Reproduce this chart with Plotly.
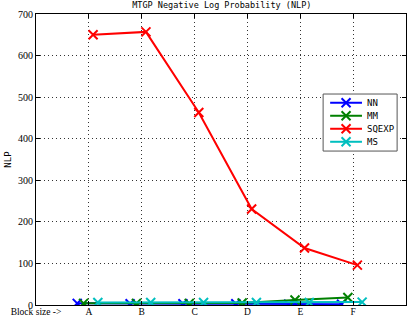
import plotly.graph_objects as go

tick_labels = ["Block size ->", "A", "B", "C", "D", "E", "F"]
positions = [1, 2, 3, 4, 5, 6]
series_names = ["NN", "MM", "SQEXP", "MS"]
nn = [4, 3, 3, 3, 2, 2]
mm = [4, 4, 4, 5, 12, 18]
sqexp = [650, 657, 463, 231, 137, 96]
ms = [6, 6, 6, 6, 6, 7]
offsets = [-0.22, -0.1, 0.08, 0.17]
colors = ["#0000ff", "#008000", "#ff0000", "#00bfbf"]

fig = go.Figure()
for name, vals, off, col in zip(series_names, [nn, mm, sqexp, ms], offsets, colors):
    fig.add_trace(go.Scatter(
        x=[p + off for p in positions], y=vals, name=name, mode="lines+markers",
        line=dict(color=col, width=2), showlegend=False,
        marker=dict(symbol="x-thin", size=9, color=col, line=dict(width=2, color=col)),
    ))

# manual compact legend (MATLAB style) on an overlay axis in plot-area fractions
box_x0, box_x1, box_y0, box_y1 = 0.776, 0.976, 0.529, 0.725
fig.add_trace(go.Scatter(
    x=[box_x0, box_x1, box_x1, box_x0, box_x0], y=[box_y0, box_y0, box_y1, box_y1, box_y0],
    xaxis="x2", yaxis="y2", mode="lines", fill="toself", fillcolor="white",
    line=dict(color="#555555", width=1), showlegend=False, hoverinfo="skip"))
row_step = 0.0447
for i, (name, col) in enumerate(zip(series_names, colors)):
    yy = 0.695 - i * row_step
    fig.add_trace(go.Scatter(
        x=[0.795, 0.881], y=[yy, yy], xaxis="x2", yaxis="y2", mode="lines",
        line=dict(color=col, width=2), showlegend=False, hoverinfo="skip"))
    fig.add_trace(go.Scatter(
        x=[0.838], y=[yy], xaxis="x2", yaxis="y2", mode="markers",
        marker=dict(symbol="x-thin", size=9, color=col, line=dict(width=2, color=col)),
        showlegend=False, hoverinfo="skip"))
    fig.add_annotation(x=0.89, y=yy, xref="paper", yref="paper", text=name,
                       showarrow=False, xanchor="left", yanchor="middle",
                       font=dict(family="DejaVu Sans Mono", size=9, color="black"))

tick_font = dict(family="Liberation Serif", size=10, color="black")
fig.update_layout(
    width=407, height=318,
    margin=dict(l=36, r=1, t=14, b=13),
    paper_bgcolor="white", plot_bgcolor="white",
    title=dict(text="MTGP Negative Log Probability (NLP)", x=0.545, xanchor="center",
               y=0.995, yanchor="top",
               font=dict(family="DejaVu Sans Mono", size=8.5, color="black")),
    showlegend=False,
    xaxis=dict(
        range=[0, 7], tickmode="array", tickvals=list(range(0, 7)), ticktext=tick_labels,
        showgrid=True, gridcolor="#333333", griddash="1px,3px", gridwidth=1,
        showline=True, linecolor="black", linewidth=1, mirror="ticks",
        ticks="inside", ticklen=4, tickcolor="black",
        tickfont=dict(family="Liberation Serif", size=9.5, color="black"),
        ticklabelstandoff=-2,
        zeroline=False, automargin=False,
    ),
    yaxis=dict(
        range=[0, 700], tickmode="array", tickvals=list(range(0, 701, 100)),
        showgrid=True, gridcolor="#333333", griddash="1px,3px", gridwidth=1,
        showline=True, linecolor="black", linewidth=1, mirror="ticks",
        ticks="inside", ticklen=4, tickcolor="black", tickfont=tick_font,
        zeroline=False, automargin=False,
        title=dict(text="NLP", standoff=4, font=dict(family="DejaVu Sans Mono", size=9, color="black")),
    ),
    xaxis2=dict(overlaying="x", anchor="y2", range=[0, 1], visible=False, fixedrange=True),
    yaxis2=dict(overlaying="y", anchor="x2", range=[0, 1], visible=False, fixedrange=True),
)
fig.write_html("out.html", config={"displayModeBar": False},
               post_script="document.body.style.margin='0px';")
